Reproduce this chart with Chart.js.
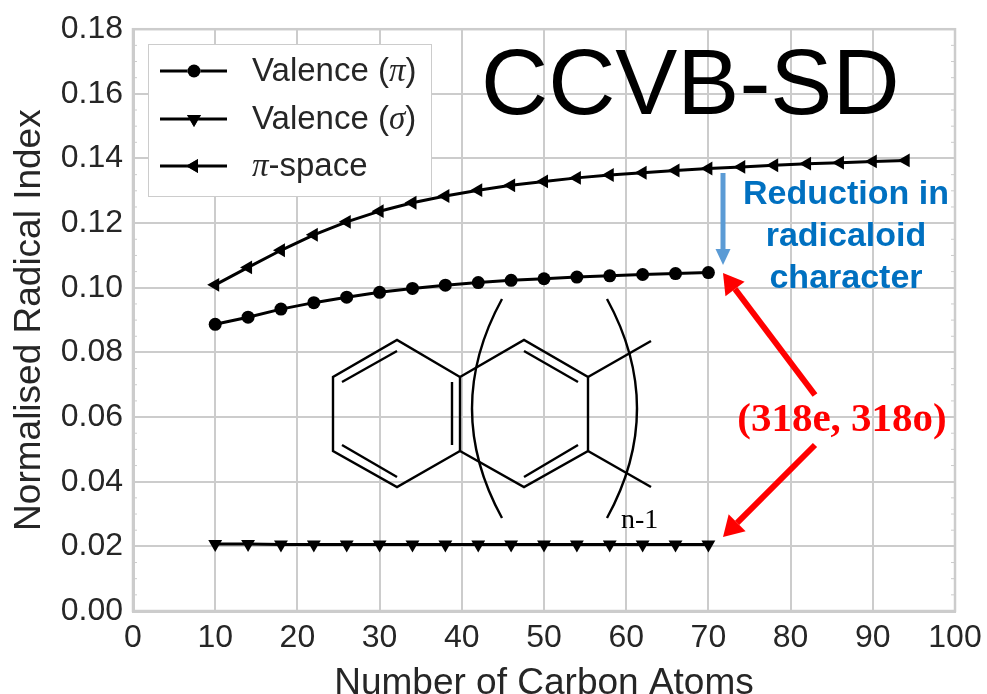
<!DOCTYPE html>
<html><head><meta charset="utf-8">
<style>html,body{margin:0;padding:0;background:#fff}#w{position:relative;width:987px;height:694px}</style>
<script src="https://cdn.jsdelivr.net/npm/chart.js@4"></script>
</head><body><div id="w"><canvas id="c" width="987" height="694"></canvas></div>
<script>
const carbonValence = [10,14,18,22,26,30,34,38,42,46,50,54,58,62,66,70];
const carbonPiSpace = [10,14,18,22,26,30,34,38,42,46,50,54,58,62,66,70,74,78,82,86,90,94];
const valencePi = [.0887,.0909,.0934,.0954,.0971,.0986,.0998,.1008,.1016,.1023,.1028,.1033,.1037,.1041,.1044,.1047];
const valenceSigma = [.0207,.0207,.0206,.0206,.0206,.0206,.0206,.0206,.0206,.0206,.0206,.0206,.0206,.0206,.0206,.0206];
const piSpace = [.1009,.1063,.1116,.1164,.1204,.1237,.1263,.1284,.1302,.1317,.1329,.134,.1349,.1356,.1363,.1369,.1374,.1379,.1384,.1387,.1391,.1394];
const xTicks = [0,10,20,30,40,50,60,70,80,90,100];
const yTicks = [0,.02,.04,.06,.08,.1,.12,.14,.16,.18];
const yMinorTicks = [.005,.01,.015,.025,.03,.035,.045,.05,.055,.065,.07,.075,.085,.09,.095,.105,.11,.115,.125,.13,.135,.145,.15,.155,.165,.17,.175];

const SANS='"Liberation Sans", Arial, sans-serif', SERIF='"Liberation Serif", "Times New Roman", serif';
const INK='#262626', GRID='#cccccc';
const pts=(xs,ys)=>xs.map((x,i)=>({x,y:ys[i]}));

function line(c,pp,w,col){c.beginPath();pp.forEach((p,i)=>i?c.lineTo(p[0],p[1]):c.moveTo(p[0],p[1]));c.lineWidth=w;c.strokeStyle=col;c.stroke();}
function arrow(c,x1,y1,x2,y2,w,hl,hw,col){
  const a=Math.atan2(y2-y1,x2-x1),bx=x2-hl*Math.cos(a),by=y2-hl*Math.sin(a);
  line(c,[[x1,y1],[bx,by]],w,col);
  c.beginPath();c.moveTo(x2,y2);
  c.lineTo(bx-hw*Math.sin(a),by+hw*Math.cos(a));
  c.lineTo(bx+hw*Math.sin(a),by-hw*Math.cos(a));
  c.closePath();c.fillStyle=col;c.fill();
}
const overlay={id:'overlay',
 beforeDatasetsDraw(ch){
  const c=ch.ctx,A=ch.chartArea;c.save();
  // frame and minor ticks
  c.strokeStyle=GRID;c.lineWidth=2.5;c.strokeRect(A.left,A.top,A.right-A.left,A.bottom-A.top);
  yMinorTicks.forEach(v=>{const y=ch.scales.y.getPixelForValue(v);
    line(c,[[A.left,y],[A.left+4,y]],1,GRID);line(c,[[A.right-4,y],[A.right,y]],1,GRID);});
  // legend
  c.fillStyle='#fff';c.fillRect(148.5,44.5,283,152);c.strokeStyle=GRID;c.lineWidth=1;c.strokeRect(148.5,44.5,283,152);
  const rows=[[70,'Valence (','π',')',0],[118,'Valence (','σ',')',1],[165,'','π','-space',2]];
  const sans='33px '+SANS, it='italic 33px '+SERIF;
  rows.forEach(r=>{
    const ds=ch.data.datasets[r[4]];
    line(c,[[160,r[0]+1],[227,r[0]+1]],3,'#000');
    c.beginPath();
    Chart.helpers.drawPoint(c,{pointStyle:ds.pointStyle,radius:ds.pointRadius,rotation:ds.pointRotation||0,borderWidth:0},194,r[0]+1);
    c.fillStyle='#000';c.fill();
    let x=252;c.textBaseline='alphabetic';c.textAlign='left';c.fillStyle=INK;
    [[r[1],sans],[r[2],it],[r[3],sans]].forEach(s=>{if(!s[0])return;c.font=s[1];c.fillText(s[0],x,r[0]+11);x+=c.measureText(s[0]).width;});
  });
  c.restore();
 },
 afterDatasetsDraw(ch){
  const c=ch.ctx;c.save();c.lineCap='butt';c.lineJoin='miter';
  // molecule
  const K='#000',W=2.4;
  line(c,[[460,377],[397,340],[333,377],[333,451],[397,487],[460,451]],W,K);
  line(c,[[460,377],[460,451]],W,K);
  line(c,[[397,351],[342,382]],W,K);
  line(c,[[342,445],[397,477]],W,K);
  line(c,[[452,382],[452,445]],W,K);
  line(c,[[460,377],[524,340],[588,377],[588,451],[524,487],[460,451]],W,K);
  line(c,[[524,351],[578,382]],W,K);
  line(c,[[524,477],[578,445]],W,K);
  line(c,[[588,377],[651,341]],W,K);
  line(c,[[588,451],[651,487]],W,K);
  c.lineWidth=W;c.strokeStyle=K;
  c.beginPath();c.moveTo(502,299);c.quadraticCurveTo(442,408.5,502,518);c.stroke();
  c.beginPath();c.moveTo(607,299);c.quadraticCurveTo(667,408.5,607,518);c.stroke();
  c.fillStyle=K;c.font='28px '+SERIF;c.textAlign='left';c.fillText('n-1',621,528);
  // heading
  c.fillStyle='#000';c.font='93px '+SANS;c.textAlign='left';c.fillText('CCVB-SD',481,114);
  // blue annotation
  arrow(c,723,173,723,265,5,16,7.5,'#5b9bd5');
  c.fillStyle='#0070c0';c.font='bold 34px '+SANS;c.textAlign='center';
  c.fillText('Reduction in',846,204);c.fillText('radicaloid',846,246);c.fillText('character',846,288);
  // red annotation
  arrow(c,815,395,723,273,6,20,12,'#ff0000');
  arrow(c,815,445,723,537,6,20,12,'#ff0000');
  c.fillStyle='#ff0000';c.font='bold 41px '+SERIF;c.fillText('(318e, 318o)',842,431);
  c.restore();
 }};

new Chart(document.getElementById('c'),{
 type:'scatter',
 data:{datasets:[
  {label:'Valence (π)',data:pts(carbonValence,valencePi),showLine:true,borderColor:'#000',backgroundColor:'#000',borderWidth:3,pointStyle:'circle',pointRadius:6.5,pointBorderWidth:0},
  {label:'Valence (σ)',data:pts(carbonValence,valenceSigma),showLine:true,borderColor:'#000',backgroundColor:'#000',borderWidth:3,pointStyle:'triangle',pointRotation:180,pointRadius:8,pointBorderWidth:0},
  {label:'π-space',data:pts(carbonPiSpace,piSpace),showLine:true,borderColor:'#000',backgroundColor:'#000',borderWidth:3,pointStyle:'triangle',pointRotation:-90,pointRadius:8,pointBorderWidth:0}
 ]},
 plugins:[overlay],
 options:{responsive:false,animation:false,
  layout:{padding:{left:0,top:28,right:32,bottom:0}},
  plugins:{legend:{display:false},title:{display:false},tooltip:{enabled:false}},
  scales:{
   x:{type:'linear',min:0,max:100,
     afterBuildTicks(a){a.ticks=xTicks.map(v=>({value:v}));},
     afterFit(a){a.height=83;a.paddingRight=0;a.paddingLeft=0;},
     grid:{color:GRID,lineWidth:2,drawTicks:false},border:{color:GRID,width:3},
     ticks:{color:INK,font:{family:SANS,size:32},maxRotation:0,padding:8,callback:v=>String(v)},
     title:{display:true,text:'Number of Carbon Atoms',color:INK,font:{family:SANS,size:37},padding:{top:4,bottom:-12}}},
   y:{type:'linear',min:0,max:.18,
     afterBuildTicks(a){a.ticks=yTicks.map(v=>({value:v}));},
     afterFit(a){a.width=133;},
     grid:{color:GRID,lineWidth:2,drawTicks:false},border:{color:GRID,width:3},
     ticks:{color:INK,font:{family:SANS,size:32},padding:10,callback:v=>v.toFixed(2)},
     title:{display:true,text:'Normalised Radical Index',color:INK,font:{family:SANS,size:37},padding:{top:8,bottom:4}}}
  }}
});
</script></body></html>
